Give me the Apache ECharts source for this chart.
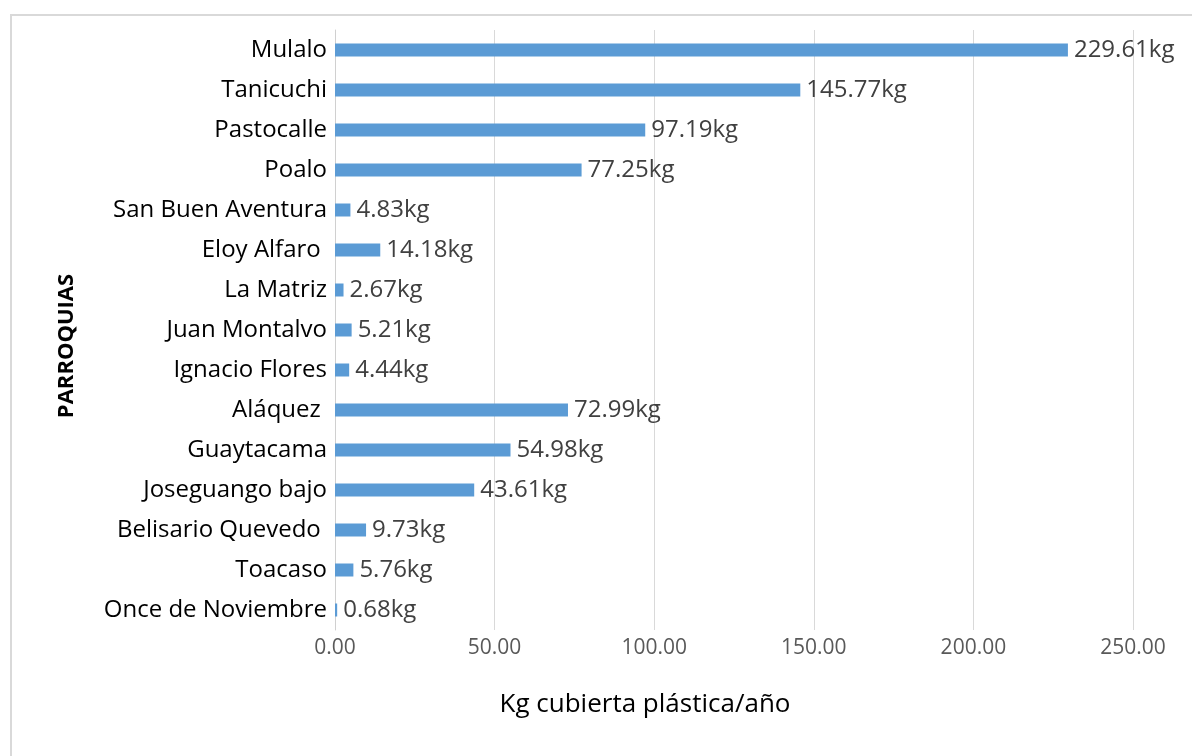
<!DOCTYPE html>
<html>
<head>
<meta charset="utf-8">
<script src="https://cdn.jsdelivr.net/npm/echarts@6/dist/echarts.min.js"></script>
<style>
  html, body { margin: 0; padding: 0; background: #fff; }
  #chart { width: 1192px; height: 756px; }
</style>
</head>
<body>
<div id="chart"></div>
<script>
// Parroquias, listed top to bottom
const parroquias = [
  'Mulalo', 'Tanicuchi', 'Pastocalle', 'Poalo', 'San Buen Aventura',
  'Eloy Alfaro ', 'La Matriz', 'Juan Montalvo', 'Ignacio Flores', 'Aláquez ',
  'Guaytacama', 'Joseguango bajo', 'Belisario Quevedo ', 'Toacaso', 'Once de Noviembre'
];
// Kg de cubierta plástica por año
const kgPorAnio = [
  229.61, 145.77, 97.19, 77.25, 4.83,
  14.18, 2.67, 5.21, 4.44, 72.99,
  54.98, 43.61, 9.73, 5.76, 0.68
];
const xMin = 0, xMax = 250, xStep = 50;

const FONT = 'Open Sans';

const chart = echarts.init(document.getElementById('chart'));
chart.setOption({
  animation: false,
  backgroundColor: '#fff',
  graphic: [{
    type: 'rect',
    shape: { x: 11, y: 15, width: 1200, height: 800 },
    style: { fill: 'none', stroke: '#d9d9d9', lineWidth: 2 },
    silent: true
  }, {
    // vertical axis title, centred on the chart body
    type: 'text',
    x: 67, y: 346,
    rotation: Math.PI / 2,
    style: {
      text: 'PARROQUIAS',
      fill: '#000', fontSize: 22, fontWeight: 'bold', fontFamily: FONT,
      align: 'center', verticalAlign: 'middle'
    },
    silent: true
  }],
  grid: { left: 335, right: 59, top: 30, bottom: 126 },
  xAxis: {
    type: 'value',
    min: xMin, max: xMax, interval: xStep,
    axisLine: { show: false },
    axisTick: { show: false },
    splitLine: { lineStyle: { color: '#d9d9d9', width: 1 } },
    axisLabel: {
      formatter: v => v.toFixed(2),
      color: '#595959', fontSize: 21, fontFamily: FONT, margin: 8
    },
    name: 'Kg cubierta plástica/año',
    nameLocation: 'middle', nameGap: 62,
    nameTextStyle: { color: '#000', fontSize: 26, fontFamily: FONT, padding: [0, 178, 0, 0] }
  },
  yAxis: {
    type: 'category',
    data: parroquias,
    inverse: true,
    axisLine: { lineStyle: { color: '#d0d0d0', width: 1 } },
    axisTick: { show: false },
    axisLabel: { color: '#000', fontSize: 24, fontFamily: FONT, margin: 8 }
  },
  series: [{
    type: 'bar',
    data: kgPorAnio,
    barWidth: 13,
    itemStyle: { color: '#5B9BD5' },
    label: {
      show: true, position: 'right', distance: 6,
      formatter: p => p.value.toFixed(2) + 'kg',
      color: '#404040', fontSize: 24, fontFamily: FONT
    }
  }]
});
</script>
</body>
</html>
